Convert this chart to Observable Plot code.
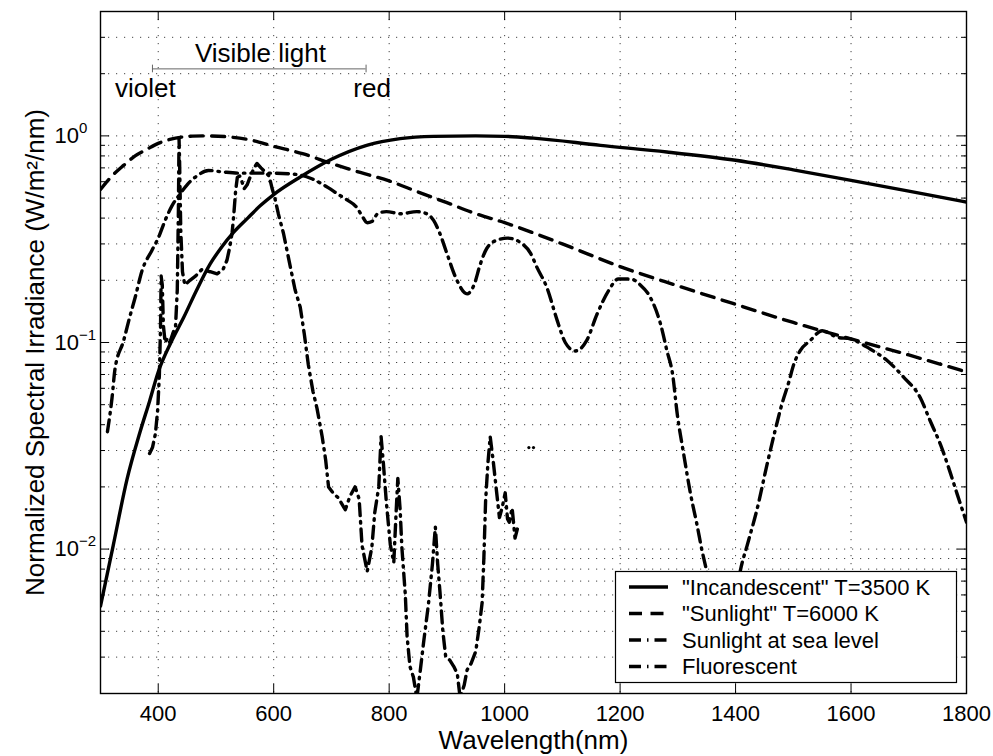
<!DOCTYPE html>
<html>
<head>
<meta charset="utf-8">
<script src="https://cdn.jsdelivr.net/npm/d3@7"></script>
<script src="https://cdn.jsdelivr.net/npm/@observablehq/plot@0.6"></script>
<style>
  html, body { margin: 0; padding: 0; background: #fff; }
  #chart svg { display: block; }
</style>
</head>
<body>
<div id="chart"></div>
<script>
// ---------------- data (wavelength nm, normalized irradiance) ----------------
const incandescent = [
  [300,0.0053],[322,0.0104],[346,0.0218],[369,0.0373],[385,0.052],[400,0.072],[422,0.1],
  [444,0.132],[466,0.178],[490,0.24],[510,0.29],[530,0.34],[555,0.4],[577,0.46],[600,0.52],
  [646,0.632],[700,0.77],[761,0.9],[819,0.97],[877,0.995],[950,1.0],[1000,0.995],[1050,0.975],
  [1166,0.9],[1281,0.836],[1400,0.762],[1500,0.685],[1600,0.609],[1700,0.54],[1800,0.478]
];
const sunlight6000 = [
  [300,0.55],[320,0.64],[340,0.72],[360,0.80],[380,0.86],[400,0.92],[430,0.975],[460,0.997],
  [485,1.0],[520,0.99],[560,0.955],[600,0.89],[650,0.82],[700,0.735],[750,0.665],[800,0.605],
  [850,0.535],[900,0.475],[950,0.42],[1000,0.38],[1100,0.3],[1200,0.233],[1300,0.188],
  [1400,0.153],[1500,0.125],[1600,0.104],[1700,0.087],[1800,0.072]
];
const seaLevel = [
  [312,0.037],[320,0.054],[325,0.074],[340,0.102],[351,0.134],[360,0.165],[372,0.223],[389,0.279],
  [400,0.32],[412,0.39],[424,0.46],[437,0.52],[450,0.58],[467,0.64],[487,0.68],[510,0.67],
  [540,0.66],[570,0.66],[600,0.66],[640,0.65],[666,0.62],[695,0.56],[710,0.525],[727,0.49],
  [744,0.45],[753,0.41],[762,0.38],[770,0.385],[780,0.42],[795,0.43],[820,0.42],[848,0.43],
  [865,0.42],[877,0.39],[888,0.336],[900,0.27],[915,0.207],[935,0.172],[947,0.19],[958,0.24],
  [969,0.285],[987,0.313],[1005,0.32],[1027,0.305],[1045,0.27],[1056,0.231],[1073,0.185],
  [1091,0.128],[1105,0.1],[1122,0.091],[1142,0.102],[1160,0.137],[1180,0.178],[1197,0.203],
  [1218,0.203],[1235,0.19],[1252,0.166],[1270,0.123],[1281,0.0915],[1291,0.07],[1299,0.045],
  [1310,0.029],[1322,0.0185],[1333,0.0132],[1342,0.0098],[1350,0.0078],[1365,0.0045],[1380,0.0032],
  [1395,0.0045],[1408,0.0078],[1420,0.0104],[1437,0.0155],[1455,0.026],[1468,0.037],[1480,0.05],
  [1492,0.064],[1501,0.0786],[1512,0.0914],[1529,0.102],[1550,0.114],[1576,0.106],[1599,0.104],
  [1633,0.093],[1662,0.082],[1691,0.068],[1720,0.054],[1737,0.0418],[1755,0.032],[1769,0.0248],
  [1784,0.0184],[1800,0.0135]
];
const fluorescent = [
  [385,0.029],[390,0.031],[395,0.036],[399,0.047],[402,0.07],[404,0.12],[405,0.21],[407,0.19],
  [409,0.12],[412,0.1],[416,0.105],[420,0.1],[425,0.11],[430,0.12],[433,0.18],[435,0.45],
  [436,0.98],[437,0.75],[439,0.35],[442,0.22],[446,0.19],[455,0.2],[465,0.21],[475,0.225],
  [490,0.22],[502,0.215],[512,0.225],[519,0.25],[524,0.29],[528,0.34],[531,0.42],[534,0.54],
  [537,0.63],[541,0.64],[545,0.6],[549,0.555],[554,0.58],[560,0.64],[566,0.7],[571,0.735],
  [578,0.7],[585,0.67],[592,0.64],[597,0.56],[602,0.5],[608,0.42],[617,0.337],[629,0.231],
  [637,0.18],[646,0.148],[653,0.11],[660,0.078],[668,0.058],[675,0.048],[684,0.035],[690,0.027],
  [695,0.02],[704,0.0185],[712,0.0177],[724,0.0155],[732,0.018],[741,0.02],[748,0.0175],
  [753,0.0104],[762,0.0078],[770,0.0102],[775,0.015],[782,0.02],[786,0.035],[790,0.026],
  [795,0.017],[802,0.0105],[808,0.0086],[812,0.015],[815,0.022],[819,0.0155],[822,0.0102],
  [828,0.006],[831,0.0038],[836,0.0027],[842,0.0024],[848,0.0019],[854,0.0026],[860,0.0036],
  [868,0.0054],[875,0.0085],[880,0.0128],[884,0.0085],[888,0.0062],[893,0.004],[898,0.003],
  [905,0.0029],[912,0.0027],[918,0.0025],[923,0.0019],[930,0.0022],[935,0.0026],[942,0.0028],
  [950,0.0032],[956,0.0042],[961,0.0055],[964,0.009],[967,0.017],[971,0.026],[975,0.035],
  [980,0.027],[986,0.019],[991,0.0142],[996,0.016],[1001,0.0187],[1005,0.014],[1008,0.0135],
  [1013,0.0158],[1018,0.0113],[1022,0.0125]
];
const fluorescentDots = [[1042,0.031],[1050,0.031]];

const xTicks = [400,600,800,1000,1200,1400,1600,1800];
const xTickLabels = ["400","600","800","1000","1200","1400","1600","1800"];
const yMajor = [0.01,0.1,1];
const yTickLabels = ["10^-2","10^-1","10^0"];
const yMinor = [0.002,0.003,0.004,0.005,0.006,0.007,0.008,0.009,
                0.02,0.03,0.04,0.05,0.06,0.07,0.08,0.09,
                0.2,0.3,0.4,0.5,0.6,0.7,0.8,0.9,2,3,4];

const seriesNames = ["\"Incandescent\" T=3500 K","\"Sunlight\" T=6000 K","Sunlight at sea level","Fluorescent"];
const visibleBand = [390, 760];
const annotations = [
  {x: 577, y: 2.29, text: "Visible light", anchor: "middle"},
  {x: 325, y: 1.55, text: "violet", anchor: "start"},
  {x: 738, y: 1.55, text: "red", anchor: "start"}
];

// ---------------- layout ----------------
const W = 993, H = 756;
const mL = 100, mR = 27, mT = 11, mB = 63;
const plotW = W - mL - mR, plotH = H - mT - mB;
const FONT = "'Liberation Sans', Arial, Helvetica, sans-serif";
const LW = 3.4;
const styles = [
  {dash: null},
  {dash: "13,8.5"},
  {dash: "12,6,1.5,6"},
  {dash: "12,6,1.5,6"}
];
const gridStyle = {stroke: "#444", strokeWidth: 1, strokeDasharray: "1.2,6.8"};

const X = d => d[0], Y = d => d[1];

const chart = Plot.plot({
  width: W, height: H,
  marginLeft: mL, marginRight: mR, marginTop: mT, marginBottom: mB,
  style: {fontFamily: FONT, fontSize: "22px", color: "#000", background: "#fff"},
  x: {domain: [300, 1800], ticks: xTicks, tickSize: 0, tickPadding: 12,
      tickFormat: d => xTickLabels[xTicks.indexOf(d)], label: null},
  y: {type: "log", domain: [0.002, 4], ticks: yMajor, tickSize: 0, tickPadding: 46,
      tickFormat: d => yTickLabels[yMajor.indexOf(d)], label: null},
  marks: [
    // grid
    Plot.ruleX(xTicks.filter(d => d < 1800), gridStyle),
    Plot.ruleY([...yMinor, ...yMajor], gridStyle),
    // curves
    Plot.line(incandescent, {x: X, y: Y, stroke: "#000", strokeWidth: LW, curve: "monotone-x", clip: true}),
    Plot.line(sunlight6000, {x: X, y: Y, stroke: "#000", strokeWidth: LW, strokeDasharray: styles[1].dash, curve: "monotone-x", clip: true}),
    Plot.line(seaLevel, {x: X, y: Y, stroke: "#000", strokeWidth: LW, strokeDasharray: styles[2].dash, curve: "monotone-x", clip: true}),
    Plot.line(fluorescent, {x: X, y: Y, stroke: "#000", strokeWidth: LW, strokeDasharray: styles[3].dash, curve: "linear", clip: true}),
    Plot.dot(fluorescentDots, {x: X, y: Y, r: 1.6, fill: "#000", stroke: null}),
    // visible light bracket
    Plot.ruleY([2.11], {x1: visibleBand[0], x2: visibleBand[1], stroke: "#666", strokeWidth: 1}),
    Plot.ruleX(visibleBand, {y1: 2.02, y2: 2.2, stroke: "#666", strokeWidth: 1}),
    Plot.text(annotations.filter(a => a.anchor === "middle"), {x: "x", y: "y", text: "text", textAnchor: "middle", lineAnchor: "bottom", fontSize: 26, fill: "#000"}),
    Plot.text(annotations.filter(a => a.anchor === "start"), {x: "x", y: "y", text: "text", textAnchor: "start", lineAnchor: "bottom", fontSize: 26, fill: "#000"}),
    // frame and inward ticks
    Plot.frame({stroke: "#000", strokeWidth: 1.4}),
    Plot.ruleX(xTicks, {insetTop: plotH - 9, stroke: "#000"}),
    Plot.ruleX(xTicks, {insetBottom: plotH - 9, stroke: "#000"}),
    Plot.ruleY(yMajor, {insetRight: plotW - 9, stroke: "#000"}),
    Plot.ruleY(yMajor, {insetLeft: plotW - 9, stroke: "#000"}),
    Plot.ruleY(yMinor, {insetRight: plotW - 5, stroke: "#000"}),
    Plot.ruleY(yMinor, {insetLeft: plotW - 5, stroke: "#000"}),
    // axis titles
    Plot.text(["Wavelength(nm)"], {frameAnchor: "bottom", dy: 55, textAnchor: "middle", lineAnchor: "bottom", fontSize: 26, fill: "#000"}),
    Plot.text(["Normalized Spectral Irradiance (W/m\u00B2/nm)"], {frameAnchor: "left", dx: -57, rotate: -90, textAnchor: "middle", lineAnchor: "bottom", fontSize: 26, fill: "#000"})
  ]
});

document.getElementById("chart").appendChild(chart);

// superscript exponents on y tick labels
const svgNS = "http://www.w3.org/2000/svg";
chart.querySelectorAll("text").forEach(t => {
  const s = t.textContent;
  if (/^10\^/.test(s)) {
    const exp = s.split("^")[1].replace("-", "\u2212");
    t.textContent = "10";
    t.setAttribute("text-anchor", "start");
    const ts = document.createElementNS(svgNS, "tspan");
    ts.setAttribute("dy", "-10");
    ts.setAttribute("font-size", "15");
    ts.textContent = exp;
    t.appendChild(ts);
  }
});

// legend (box in the lower right of the frame)
const svg = d3.select(chart);
const lg = svg.append("g").attr("font-family", FONT).attr("font-size", 22).attr("text-anchor", "start");
lg.append("rect").attr("x", 615.5).attr("y", 571.5).attr("width", 341).attr("height", 111)
  .attr("fill", "#fff").attr("stroke", "#000").attr("stroke-width", 1.2);
seriesNames.forEach((name, i) => {
  const yy = 587 + i * 26.5;
  lg.append("line").attr("x1", 629).attr("x2", 668).attr("y1", yy).attr("y2", yy)
    .attr("stroke", "#000").attr("stroke-width", LW)
    .attr("stroke-dasharray", styles[i].dash);
  lg.append("text").attr("x", 682).attr("y", yy + 7.8).attr("fill", "#000")
    .attr("text-anchor", "start").text(name);
});
</script>
</body>
</html>
